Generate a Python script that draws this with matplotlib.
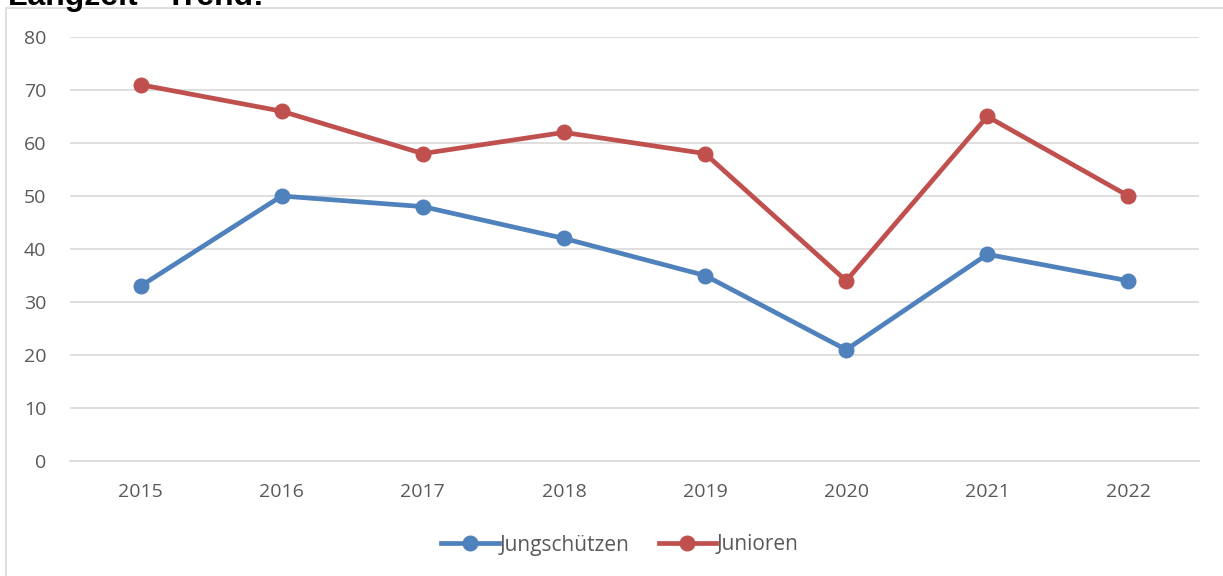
import numpy as np
import matplotlib.pyplot as plt
from matplotlib.patches import Rectangle

# values
years = ['2015', '2016', '2017', '2018', '2019', '2020', '2021', '2022']
jungschuetzen = [33, 50, 48, 42, 35, 21, 39, 34]
junioren = [71, 66, 58, 62, 58, 34, 65, 50]

plt.rcParams['font.family'] = ['Open Sans', 'DejaVu Sans']

W, H = 1223, 576
fig = plt.figure(figsize=(W / 100, H / 100), dpi=100)

# chart border (partly off the page)
fig.patches.append(Rectangle((6 / W, -0.1), 1.1, 1 - 8 / H + 0.1, transform=fig.transFigure,
                             fill=False, edgecolor='#d9d9d9', linewidth=1.2))

# title, cut off at the top edge like in the source
fig.text(8 / W, 1 - 5 / H, 'Langzeit - Trend:', fontsize=23, fontweight='bold',
         family=['Liberation Sans', 'DejaVu Sans'], va='baseline', ha='left')

ax = fig.add_axes([70 / W, (H - 461) / H, (1199 - 70) / W, (461 - 37) / H])
x = np.arange(len(years))
ax.plot(x, jungschuetzen, color='#4f81bd', lw=3.4, marker='o', ms=10.5, label='Jungschützen')
ax.plot(x, junioren, color='#c0504d', lw=3.4, marker='o', ms=10.5, label='Junioren')

ax.set_xlim(-0.5, len(years) - 0.5)
ax.set_ylim(0, 80)
ax.set_yticks(range(0, 81, 10))
ax.set_xticks(x)
ax.set_xticklabels(years)
ax.grid(axis='y', color='#d9d9d9', lw=1.2)
ax.set_axisbelow(True)
for s in ['top', 'right', 'left']:
    ax.spines[s].set_visible(False)
ax.spines['bottom'].set_color('#d9d9d9')
ax.spines['bottom'].set_linewidth(1.2)
ax.tick_params(length=0, labelsize=14, labelcolor='#595959')
ax.tick_params(axis='y', pad=17)
ax.tick_params(axis='x', pad=16)

fig.legend(loc='center', bbox_to_anchor=(620 / W, 1 - 545 / H), ncol=2, frameon=False,
           fontsize=15, labelcolor='#595959', handlelength=2.75, handletextpad=0.05,
           columnspacing=1.4)

fig.savefig('out.png', dpi=100)
